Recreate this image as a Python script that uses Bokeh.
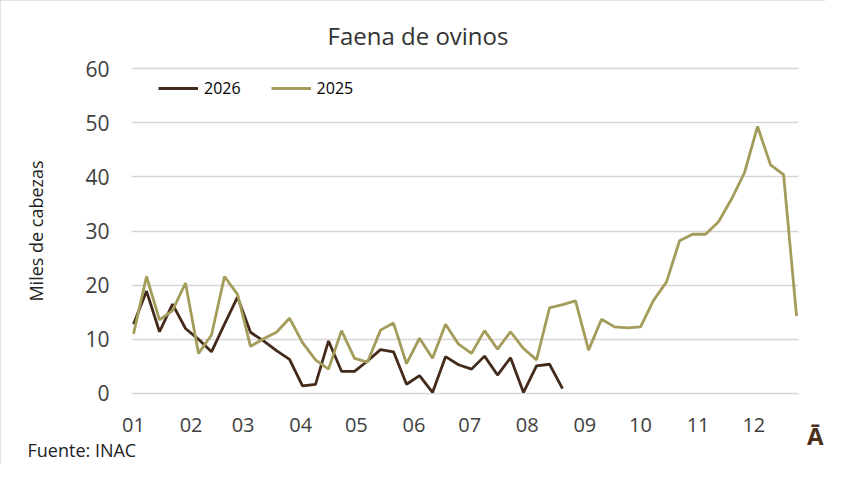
from datetime import date
from bokeh.plotting import figure
from bokeh.models import Range1d, FixedTicker, Legend, LegendItem, Title
from bokeh.embed import file_html
from bokeh.resources import INLINE

# ---------------- data ----------------
chart_title = "Faena de ovinos"
y_title = "Miles de cabezas"
source_note = "Fuente: INAC"
logo_text = "Ā"
month_labels = ["01", "02", "03", "04", "05", "06", "07", "08", "09", "10", "11", "12"]
y_ticks = [0, 10, 20, 30, 40, 50, 60]

# weekly slaughter, thousands of heads
series_2026 = [12.8, 18.9, 11.4, 16.5, 12.0, 10.0, 7.7, 12.8, 17.8, 11.3,
               9.7, 7.9, 6.3, 1.4, 1.7, 9.7, 4.1, 4.1, 6.0, 8.1,
               7.7, 1.7, 3.3, 0.2, 6.8, 5.3, 4.5, 6.9, 3.4, 6.6,
               0.2, 5.1, 5.4, 0.9]
series_2025 = [11.0, 21.6, 13.6, 15.3, 20.4, 7.4, 10.8, 21.6, 18.3, 8.7,
               10.1, 11.3, 13.9, 9.4, 6.2, 4.5, 11.6, 6.5, 5.8, 11.7,
               13.0, 5.5, 10.2, 6.5, 12.8, 9.1, 7.4, 11.6, 8.2, 11.4,
               8.3, 6.2, 15.8, 16.4, 17.1, 8.0, 13.7, 12.3, 12.1, 12.3,
               17.2, 20.6, 28.2, 29.4, 29.4, 31.7, 35.9, 40.8, 49.3, 42.2,
               40.4, 14.3]

# ---------------- derived ----------------
x_2026 = list(range(len(series_2026)))
x_2025 = list(range(len(series_2025)))
month_pos = [(date(2025, m, 1) - date(2025, 1, 1)).days / 7 for m in range(1, 13)]

col_2026 = "#432a1b"
col_2025 = "#a39c5a"
txt = "#404040"
font = "Open Sans"

p = figure(width=825, height=464, output_backend="svg", toolbar_location=None,
           x_range=Range1d(-0.154, 51.15), y_range=Range1d(-0.74, 60.74),
           min_border_left=131, min_border_right=27, min_border_top=64, min_border_bottom=67)
p.background_fill_color = "white"
p.border_fill_color = "white"
p.outline_line_color = None
p.styles = {"outline": "2px solid #d9d9d9", "outline-offset": "-2px"}

# title (above)
p.title.text = chart_title
p.title.align = "left"
p.title.offset = 196
p.title.standoff = 26
p.title.text_font = font
p.title.text_font_size = "24px"
p.title.text_font_style = "normal"
p.title.text_color = "#333333"

p.xgrid.grid_line_color = None
p.ygrid.grid_line_color = "#d9d5d5"
p.ygrid.grid_line_width = 1.5

yax = p.yaxis[0]
yax.ticker = FixedTicker(ticks=y_ticks)
yax.axis_line_color = None
yax.major_tick_line_color = None
yax.minor_tick_line_color = None
yax.major_label_text_font = font
yax.major_label_text_font_size = "21px"
yax.major_label_text_color = txt
yax.major_label_standoff = 16
yax.axis_label = y_title
yax.axis_label_standoff = 34
yax.axis_label_text_font = font
yax.axis_label_text_font_size = "18px"
yax.axis_label_text_font_style = "normal"
yax.axis_label_text_color = "#222222"

xax = p.xaxis[0]
xax.ticker = FixedTicker(ticks=month_pos)
xax.major_label_overrides = {pos: lab for pos, lab in zip(month_pos, month_labels)}
xax.axis_line_color = None
xax.major_tick_line_color = None
xax.minor_tick_line_color = None
xax.major_label_text_font = font
xax.major_label_text_font_size = "20px"
xax.major_label_text_color = txt
xax.major_label_standoff = 14

r26 = p.line(x_2026, series_2026, line_color=col_2026, line_width=2.8)
r25 = p.line(x_2025, series_2025, line_color=col_2025, line_width=2.8)

legend = Legend(items=[LegendItem(label="2026", renderers=[r26]),
                       LegendItem(label="2025", renderers=[r25])],
                orientation="horizontal", location=(27, 298),
                glyph_width=40, glyph_height=16, label_standoff=6, spacing=30,
                padding=0, margin=0, border_line_color=None,
                background_fill_alpha=0,
                label_text_font=font, label_text_font_size="16px",
                label_text_color="#000000")
p.add_layout(legend, "center")

# logo and source note below the x axis
logo = Title(text=logo_text, align="right", offset=-25, standoff=-31,
             vertical_align="top", text_font=font, text_font_size="24px",
             text_font_style="bold", text_color="#4a2f1c")
p.add_layout(logo, "below")
note = Title(text=source_note, align="left", offset=-104, standoff=-1,
             vertical_align="top", text_font=font, text_font_size="18px",
             text_font_style="normal", text_color="#222222")
p.add_layout(note, "below")

open("out.html", "w").write(file_html(p, INLINE))
